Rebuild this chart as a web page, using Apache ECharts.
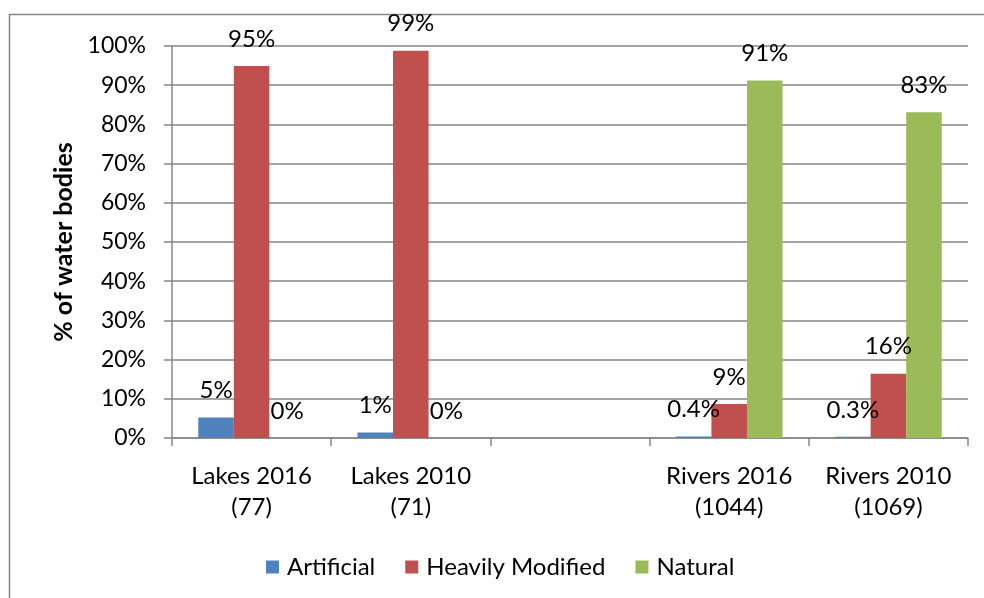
<!DOCTYPE html>
<html lang="en">
<head>
    <meta charset="UTF-8">
    <title>Water bodies</title>
    <style>
        body { margin: 0; overflow: hidden; background: #fff; }
        #chart { width: 984px; height: 598px; }
    </style>
</head>
<body>
    <div id="chart"></div>
    <script src="https://cdn.jsdelivr.net/npm/echarts@6/dist/echarts.min.js"></script>
    <script>
        // categories (empty slot between lakes and rivers as in the original)
        var categories = ['Lakes 2016\n(77)', 'Lakes 2010\n(71)', '', 'Rivers 2016\n(1044)', 'Rivers 2010\n(1069)'];
        var artificial = [5.2, 1.4, '-', 0.4, 0.3];
        var heavilyModified = [94.9, 98.8, '-', 8.7, 16.4];
        var natural = [0, 0, '-', 91.2, 83.1];
        var yTicks = { min: 0, max: 100, interval: 10 };

        var font = 'Lato';
        var grey = '#868686';

        function pct(p) {
            var v = p.value;
            if (v === 0) return '0%';
            if (v < 1) return v.toFixed(1) + '%';
            return Math.round(v) + '%';
        }

        function bar(name, data, color) {
            return {
                name: name,
                type: 'bar',
                data: data,
                barGap: '0%',
                barCategoryGap: '33%',
                itemStyle: { color: color },
                label: {
                    show: true,
                    position: 'top',
                    distance: 15,
                    formatter: pct,
                    color: '#000',
                    fontFamily: font,
                    fontSize: 24
                }
            };
        }

        var myChart = echarts.init(document.getElementById('chart'));

        var option = {
            animation: false,
            graphic: [{
                type: 'rect',
                shape: { x: 9.5, y: 14.5, width: 1000, height: 640 },
                style: { fill: 'none', stroke: grey, lineWidth: 1.5 },
                silent: true
            }],
            grid: { left: 172, right: 16, top: 46, bottom: 160 },
            legend: {
                left: 261,
                top: 550,
                icon: 'rect',
                itemWidth: 13,
                itemHeight: 13,
                itemGap: 30,
                textStyle: { fontFamily: font, fontSize: 24, color: '#000', padding: [0, 0, 0, 3] },
                data: ['Artificial', 'Heavily Modified', 'Natural']
            },
            xAxis: {
                type: 'category',
                data: categories,
                axisLine: { lineStyle: { color: grey, width: 1.5 } },
                axisTick: { show: true, length: 8, lineStyle: { color: grey, width: 1.5 } },
                axisLabel: {
                    margin: 23,
                    interval: 0,
                    color: '#000',
                    fontFamily: font,
                    fontSize: 24,
                    lineHeight: 31
                }
            },
            yAxis: {
                type: 'value',
                min: yTicks.min,
                max: yTicks.max,
                interval: yTicks.interval,
                name: '% of water bodies',
                nameLocation: 'middle',
                nameGap: 96,
                nameTextStyle: { fontFamily: font, fontSize: 25, fontWeight: 'bold', color: '#000' },
                axisLine: { show: true, lineStyle: { color: grey, width: 1.5 } },
                axisTick: { show: true, length: 8, lineStyle: { color: grey, width: 1.5 } },
                axisLabel: {
                    margin: 26,
                    formatter: '{value}%',
                    color: '#000',
                    fontFamily: font,
                    fontSize: 23
                },
                splitLine: { lineStyle: { color: grey, width: 1.5 } }
            },
            series: [
                bar('Artificial', artificial, '#4F81BD'),
                bar('Heavily Modified', heavilyModified, '#C0504D'),
                bar('Natural', natural, '#9BBB59')
            ]
        };

        myChart.setOption(option);
    </script>
</body>
</html>
